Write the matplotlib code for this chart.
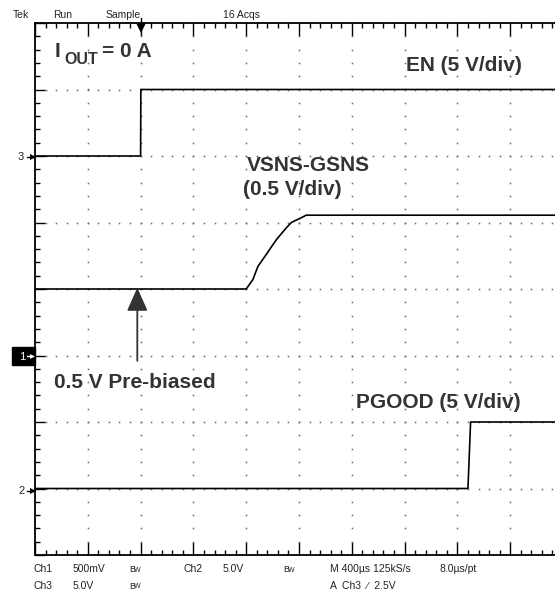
import numpy as np
import matplotlib
matplotlib.use("Agg")
import matplotlib.pyplot as plt
from matplotlib.patches import Rectangle

# scope traces, time in us (trigger at 0), values in volts
en_t = [-800, 0, 2, 3200]
en_v = [0.0, 0.0, 5.0, 5.0]

vsns_t = [-800, 800, 850, 889, 952, 1028, 1104, 1142, 1205, 1255, 3200]
vsns_v = [0.5, 0.5, 0.57, 0.67, 0.76, 0.87, 0.96, 1.0, 1.03, 1.055, 1.055]

pgood_t = [-800, 2480, 2500, 3200]
pgood_v = [0.0, 0.0, 5.0, 5.0]

# channel scale (V/div) and ground position (div from screen centre)
en_scale, en_offset = 5.0, 2
vsns_scale, vsns_offset = 0.5, -1
pgood_scale, pgood_offset = 5.0, -3

W, H = 555, 596

def fx(x):
    return x / W

def fy(y):
    return 1 - y / H

fig = plt.figure(figsize=(W / 100, H / 100), dpi=100)
fig.patch.set_facecolor('white')
# graticule: 10 x 8 divisions, right edge runs off the picture
ax = fig.add_axes([fx(35), fy(555), (563 - 35) / W, (555 - 23) / H])
ax.set_xlim(-800, 3200)
ax.set_ylim(-4, 4)

for s in ['top', 'bottom', 'left']:
    ax.spines[s].set_linewidth(1.3)
    ax.spines[s].set_color('black')
ax.spines['right'].set_visible(False)

ax.set_xticks(np.arange(-800, 3201, 400))
ax.set_xticks(np.arange(-800, 3201, 80), minor=True)
ax.set_yticks(np.arange(-4, 5, 1))
ax.set_yticks(np.arange(-4, 4.01, 0.2), minor=True)
ax.tick_params(which='major', direction='in', length=9.5, width=1, top=True, bottom=True, left=True, right=False,
               labelbottom=False, labelleft=False)
ax.tick_params(which='minor', direction='in', length=3.8, width=1, top=True, bottom=True, left=True, right=False)
ax.tick_params(axis='y', which='major', length=7.5)

# dotted grid
for gx in np.arange(-400, 3201, 400):
    ys = np.arange(-4, 4.01, 0.2)
    ax.plot(np.full_like(ys, gx), ys, ls='none', marker='s', ms=1.1, mew=0, color='#666666')
for gy in np.arange(-3, 4, 1):
    xs = np.arange(-800, 3201, 80)
    ax.plot(xs, np.full_like(xs, gy, dtype=float), ls='none', marker='s', ms=1.1, mew=0, color='#666666')

# traces
ax.plot(en_t, np.array(en_v) / en_scale + en_offset, color='black', lw=1.2)
ax.plot(vsns_t, np.array(vsns_v) / vsns_scale + vsns_offset, color='black', lw=1.2)
ax.plot(pgood_t, np.array(pgood_v) / pgood_scale + pgood_offset, color='black', lw=1.2)

# pre-bias arrow
ax.annotate('', xy=(-25, 0.02), xytext=(-25, -1.08),
            arrowprops=dict(arrowstyle='-|>,head_length=0.9,head_width=0.4', color='#333333', lw=1.3,
                            shrinkA=0, shrinkB=0, mutation_scale=16))

# trigger marker
ax.plot([0], [3.93], marker='v', ms=7, color='black', clip_on=False, mew=0)
ax.plot([0, 0], [3.93, 4.07], color='black', lw=1, clip_on=False)

# annotations
ann = dict(fontsize=15, fontweight='bold', color='#333333', family='Liberation Sans', va='baseline')
fig.text(fx(55), fy(57), 'I', **ann)
fig.text(fx(64), fy(64), 'OUT', fontsize=11.5, fontweight='bold', color='#333333',
         family='Liberation Sans', va='baseline')
fig.text(fx(102), fy(57), '= 0 A', **ann)
fig.text(fx(406), fy(71), 'EN (5 V/div)', **ann)
fig.text(fx(247), fy(171), 'VSNS-GSNS', **ann)
fig.text(fx(243), fy(195), '(0.5 V/div)', **ann)
fig.text(fx(54), fy(388), '0.5 V Pre-biased', **ann)
fig.text(fx(356), fy(408), 'PGOOD (5 V/div)', **ann)

# scope header / footer text
sc = dict(fontsize=7.5, color='#222222', family='Liberation Sans', va='baseline')
fig.text(fx(13), fy(18), 'Tek', **sc)
fig.text(fx(53), fy(18), 'Run', **sc)
fig.text(fx(106), fy(18), 'Sample', **sc)
fig.text(fx(223), fy(18), '16 Acqs', **sc)

foot1 = [(33, 'Ch1'), (73, '500mV'), (183, 'Ch2'), (223, '5.0V'), (330, 'M 400\u00b5s 125kS/s'),
         (439, '8.0\u00b5s/pt')]
foot2 = [(33, 'Ch3'), (73, '5.0V'), (330, 'A  Ch3  \u2215  2.5V')]
for x, s in foot1:
    fig.text(fx(x), fy(572), s, **sc)
for x, s in foot2:
    fig.text(fx(x), fy(589), s, **sc)
for x, y in [(129, 572), (283, 572), (129, 589)]:
    fig.text(fx(x), fy(y), 'B', fontsize=6.5, color='#222222', family='Liberation Sans', va='baseline')
    fig.text(fx(x + 4.5), fy(y - 0.5), 'W', fontsize=5, color='#222222', family='Liberation Sans', va='baseline')

# channel ground markers on the left edge
for label, y in [('3', 157), ('2', 491)]:
    fig.text(fx(18), fy(y), label, fontsize=8, color='#222222', va='center', family='Liberation Sans')
    fig.lines.append(plt.Line2D([fx(27), fx(33)], [fy(y), fy(y)], color='black', lw=1, transform=fig.transFigure))
    fig.lines.append(plt.Line2D([fx(33)], [fy(y)], marker='>', ms=4, color='black', mew=0, transform=fig.transFigure))
fig.patches.append(Rectangle((fx(12), fy(365)), fx(23), 18 / H, color='black', transform=fig.transFigure))
fig.text(fx(19), fy(356.5), '1', fontsize=8, color='white', va='center', family='Liberation Sans')
fig.lines.append(plt.Line2D([fx(27), fx(32)], [fy(356), fy(356)], color='white', lw=1, transform=fig.transFigure))
fig.lines.append(plt.Line2D([fx(32)], [fy(356)], marker='>', ms=3.5, color='white', mew=0, transform=fig.transFigure))

fig.savefig('out.png', dpi=100)
